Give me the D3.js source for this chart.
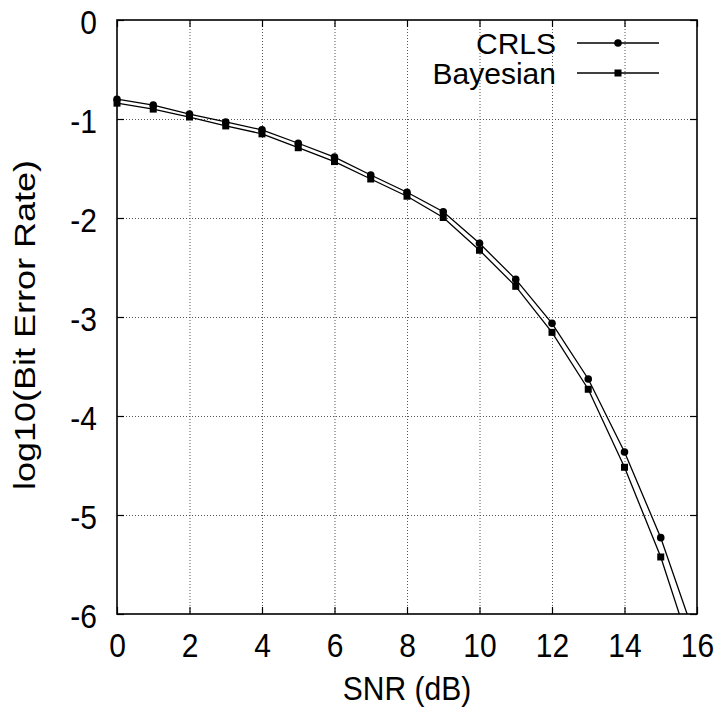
<!DOCTYPE html>
<html>
<head>
<meta charset="utf-8">
<script src="https://cdn.jsdelivr.net/npm/d3@7/dist/d3.min.js"></script>
<style>
  html, body { margin: 0; padding: 0; background: #fff; }
  svg { display: block; }
  text { font-family: "Liberation Sans", Arial, Helvetica, sans-serif; fill: #000; }
</style>
</head>
<body>
<svg id="chart" width="722" height="713"></svg>
<script>
// SNR values (dB) and log10 bit error rates for the two receivers
const snr = [0, 1, 2, 3, 4, 5, 6, 7, 8, 9, 10, 11, 12, 13, 14, 15, 16];
const crls = [-0.80, -0.86, -0.95, -1.03, -1.11, -1.245, -1.385, -1.566, -1.74, -1.937,
              -2.256, -2.62, -3.064, -3.626, -4.364, -5.229, -6.29];
const bayesian = [-0.84, -0.90, -0.98, -1.07, -1.15, -1.29, -1.43, -1.606, -1.78, -1.995,
                  -2.326, -2.69, -3.155, -3.73, -4.518, -5.424, -6.55];
const seriesNames = ["CRLS", "Bayesian"];
const xTicks = [0, 2, 4, 6, 8, 10, 12, 14, 16];
const yTicks = [0, -1, -2, -3, -4, -5, -6];

const svg = d3.select("#chart");
const m = { left: 117, right: 697, top: 20, bottom: 614 };

const x = d3.scaleLinear().domain([0, 16]).range([m.left, m.right]);
const y = d3.scaleLinear().domain([-6, 0]).range([m.bottom, m.top]);

// dotted grid
const grid = svg.append("g").attr("stroke", "#555").attr("stroke-width", 1)
  .attr("stroke-dasharray", "1,2");
grid.selectAll("line.v").data(xTicks.filter(d => d > 0 && d < 16)).join("line")
  .attr("x1", d => x(d) + 0.5).attr("x2", d => x(d) + 0.5)
  .attr("y1", m.top).attr("y2", m.bottom);
grid.selectAll("line.h").data(yTicks.filter(d => d < 0 && d > -6)).join("line")
  .attr("y1", d => y(d) + 0.5).attr("y2", d => y(d) + 0.5)
  .attr("x1", m.left).attr("x2", m.right);

// axes: labels outside, ticks drawn inward and mirrored on the opposite side
const tickLen = 7;
const fs = 30;
const fmt = d => String(d);   // plain hyphen for negatives
const xAxisB = d3.axisBottom(x).tickValues(xTicks).tickSize(-tickLen).tickFormat(fmt);
const gxb = svg.append("g").attr("transform", `translate(0,${m.bottom})`).call(xAxisB);
gxb.select(".domain").remove();
gxb.selectAll("text").attr("font-size", fs).attr("y", null).attr("dy", null)
  .attr("transform", "translate(0,43) scale(1,1.1)");
const xAxisT = d3.axisTop(x).tickValues(xTicks).tickSize(-tickLen).tickFormat("");
const gxt = svg.append("g").attr("transform", `translate(0,${m.top})`).call(xAxisT);
gxt.select(".domain").remove();

const yAxisL = d3.axisLeft(y).tickValues(yTicks).tickSize(-tickLen).tickFormat(fmt);
const gyl = svg.append("g").attr("transform", `translate(${m.left},0)`).call(yAxisL);
gyl.select(".domain").remove();
gyl.selectAll("text").attr("font-size", fs).attr("x", null).attr("dy", null)
  .attr("transform", "translate(-20,13) scale(1,1.12)");
const yAxisR = d3.axisRight(y).tickValues(yTicks).tickSize(-tickLen).tickFormat("");
const gyr = svg.append("g").attr("transform", `translate(${m.right},0)`).call(yAxisR);
gyr.select(".domain").remove();
svg.selectAll(".tick line").attr("stroke", "#000").attr("stroke-width", 1.2);
svg.selectAll(".tick text").attr("font-family", null);

// plot border
svg.append("rect").attr("x", m.left).attr("y", m.top)
  .attr("width", m.right - m.left).attr("height", m.bottom - m.top)
  .attr("fill", "none").attr("stroke", "#000").attr("stroke-width", 1.6);

// axis titles
svg.append("text")
  .attr("transform", `translate(${(m.left + m.right) / 2},700) scale(1,1.1)`)
  .attr("text-anchor", "middle").attr("font-size", fs).text("SNR (dB)");
svg.append("text")
  .attr("transform", "translate(35,325) rotate(-90) scale(1.2,1)")
  .attr("text-anchor", "middle").attr("font-size", fs).text("log10(Bit Error Rate)");

// series, clipped to the plot frame
svg.append("clipPath").attr("id", "plotClip").append("rect")
  .attr("x", m.left - 6).attr("y", m.top).attr("width", m.right - m.left + 6)
  .attr("height", m.bottom - m.top);
const plot = svg.append("g").attr("clip-path", "url(#plotClip)");
const line = d3.line().x((d, i) => x(snr[i])).y(d => y(d));
[crls, bayesian].forEach((vals) => {
  plot.append("path").datum(vals).attr("d", line)
    .attr("fill", "none").attr("stroke", "#000").attr("stroke-width", 1.3);
});
const sq = 7, r = 3.8;
plot.selectAll("circle.crls").data(crls).join("circle")
  .attr("cx", (d, i) => x(snr[i])).attr("cy", d => y(d)).attr("r", r).attr("fill", "#000");
plot.selectAll("rect.bayes").data(bayesian).join("rect")
  .attr("x", (d, i) => x(snr[i]) - sq / 2).attr("y", d => y(d) - sq / 2)
  .attr("width", sq).attr("height", sq).attr("fill", "#000");

// legend
const legend = svg.append("g");
const legY = [43, 73];
seriesNames.forEach((name, i) => {
  legend.append("text").attr("x", 556).attr("y", legY[i] + 10.5)
    .attr("text-anchor", "end").attr("font-size", fs).text(name);
  legend.append("line").attr("x1", 577).attr("x2", 659)
    .attr("y1", legY[i]).attr("y2", legY[i]).attr("stroke", "#000").attr("stroke-width", 1.3);
  if (i === 0) {
    legend.append("circle").attr("cx", 618).attr("cy", legY[i]).attr("r", r).attr("fill", "#000");
  } else {
    legend.append("rect").attr("x", 618 - sq / 2).attr("y", legY[i] - sq / 2)
      .attr("width", sq).attr("height", sq).attr("fill", "#000");
  }
});
</script>
</body>
</html>
